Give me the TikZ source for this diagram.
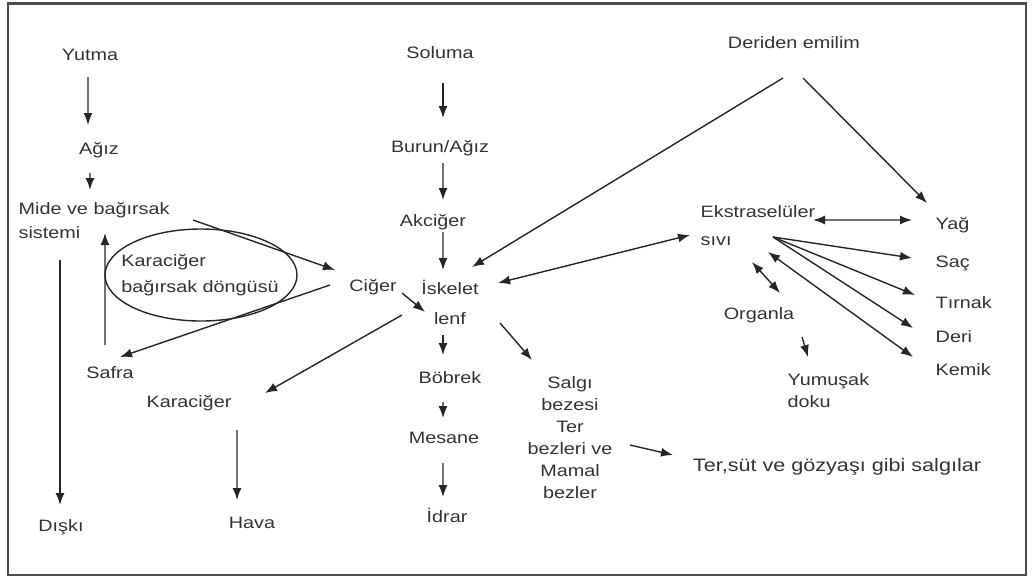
\documentclass[tikz,border=0pt]{standalone}
\usepackage{fontspec}
\setmainfont{Liberation Sans}[FakeStretch=1.2]
\usetikzlibrary{arrows.meta}

\begin{document}
\begin{tikzpicture}[x=10pt,y=-10pt,color=black!85,line width=1.4pt,
    >={Latex[length=12pt,width=9pt]},
    every node/.style={inner sep=2pt,text=black!80,font=\fontsize{16.5}{22}\selectfont}]
    \useasboundingbox (0,0) rectangle (103.2,57.9);
    \draw[line width=2.2pt,black!70] (0.8,0.35) rectangle (102.6,57.5);

    \node (yutma) at (9,5.5) {Yutma};
    \node (agiz) at (9.9,15) {Ağız};
    \node[anchor=west,align=left] (mide) at (1.6,22) {Mide ve bağırsak\\[2pt]sistemi};
    \node[align=left] (dongu) at (20,27.5) {Karaciğer\\[4pt]bağırsak döngüsü};
    \node (safra) at (11,37.3) {Safra};
    \node (karaciger) at (18.9,40.3) {Karaciğer};
    \node (diski) at (6.1,52.7) {Dışkı};
    \node (hava) at (25.2,52.3) {Hava};

    \node (soluma) at (44,5.3) {Soluma};
    \node (burun) at (44,14.8) {Burun/Ağız};
    \node (akciger) at (43.3,22.2) {Akciğer};
    \node (ciger) at (37.3,28.7) {Ciğer};
    \node[align=center] (iskelet) at (45,30.2) {İskelet\\[8pt]lenf};
    \node (bobrek) at (45,37.8) {Böbrek};
    \node (mesane) at (44.4,43.8) {Mesane};
    \node (idrar) at (44.7,51.5) {İdrar};
    \node[align=center] (salgi) at (57,43.8) {Salgı\\bezesi\\Ter\\bezleri ve\\Mamal\\bezler};
    \node[font=\fontsize{18}{22}\selectfont] (tersut) at (83.7,46.7) {Ter,süt ve gözyaşı gibi salgılar};

    \node (deriden) at (79.4,4.3) {Deriden emilim};
    \node[anchor=west,align=left] (ekstra) at (69.8,22.6) {Ekstraselüler\\[6pt]sıvı};
    \node[anchor=west] (yag) at (93.3,22.5) {Yağ};
    \node[anchor=west] (sac) at (93.3,26.3) {Saç};
    \node[anchor=west] (tirnak) at (93.3,30.3) {Tırnak};
    \node[anchor=west] (deri) at (93.3,33.7) {Deri};
    \node[anchor=west] (kemik) at (93.3,37) {Kemik};
    \node (organla) at (75.9,31.5) {Organla};
    \node[anchor=west,align=left] (yumusak) at (78.5,39.1) {Yumuşak\\doku};

    \draw[line width=1.4pt] ([xshift=1pt]dongu.center) ellipse [x radius=96pt, y radius=46pt];

    \path [->] ([shift={(-2pt,-22pt)}]yutma.center) edge ([shift={(-11pt,25pt)}]agiz.center);
    \path [->] ([shift={(-9pt,-23pt)}]agiz.center) edge ([shift={(74pt,30pt)}]mide.west);
    \path [->] ([shift={(44pt,-40pt)}]mide.west) edge ([shift={(-1pt,22pt)}]diski.center);
    \path [->] ([shift={(-5pt,28pt)}]safra.center) edge ([shift={(89pt,-13pt)}]mide.west);
    \path [->] ([shift={(177pt,0pt)}]mide.west) edge ([shift={(-38pt,17pt)}]ciger.center);
    \path [->] ([shift={(-43pt,2pt)}]ciger.center) edge ([shift={(10pt,16pt)}]safra.center);
    \path [->] ([shift={(-48pt,-13pt)}]iskelet.center) edge ([shift={(76pt,10pt)}]karaciger.center);
    \path [->] ([shift={(48pt,-27pt)}]karaciger.center) edge ([shift={(-15pt,23pt)}]hava.center);

    \path [->] ([shift={(3pt,-30pt)}]soluma.center) edge ([shift={(3pt,30pt)}]burun.center);
    \path [->] ([shift={(3pt,-15pt)}]burun.center) edge ([shift={(10pt,22pt)}]akciger.center);
    \path [->] ([shift={(10pt,-10pt)}]akciger.center) edge ([shift={(-7pt,32pt)}]iskelet.center);
    \path [->] ([shift={(29pt,-6pt)}]ciger.center) edge ([shift={(-25pt,-10pt)}]iskelet.center);
    \path [->] ([shift={(-7pt,-33pt)}]iskelet.center) edge ([shift={(-7pt,23pt)}]bobrek.center);
    \path [->] ([shift={(-7pt,-24pt)}]bobrek.center) edge ([shift={(-1pt,20pt)}]mesane.center);
    \path [->] ([shift={(-1pt,-25pt)}]mesane.center) edge ([shift={(-4pt,18pt)}]idrar.center);
    \path [->] ([shift={(50pt,-21pt)}]iskelet.center) edge ([shift={(-38pt,78pt)}]salgi.center);
    \path [->] ([shift={(60pt,-7pt)}]salgi.center) edge ([shift={(-164pt,12pt)}]tersut.center);

    \path [->] ([shift={(-11pt,-35pt)}]deriden.center) edge ([shift={(22pt,35pt)}]iskelet.center);
    \path [->] ([shift={(9pt,-35pt)}]deriden.center) edge ([shift={(-6pt,22pt)}]yag.west);
    \path [<->] ([shift={(48pt,19pt)}]iskelet.center) edge ([shift={(-8pt,-9pt)}]ekstra.west);
    \path [<->] ([shift={(115pt,6pt)}]ekstra.west) edge ([shift={(-21pt,5pt)}]yag.west);
    \path [->] ([shift={(75pt,-11pt)}]ekstra.west) edge ([shift={(-21pt,5pt)}]sac.west);
    \path [->] ([shift={(75pt,-11pt)}]ekstra.west) edge ([shift={(-18pt,8pt)}]tirnak.west);
    \path [->] ([shift={(75pt,-11pt)}]ekstra.west) edge ([shift={(-20pt,9pt)}]deri.west);
    \path [<->] ([shift={(70pt,-26pt)}]ekstra.west) edge ([shift={(-20pt,13pt)}]kemik.west);
    \path [<->] ([shift={(54pt,-36pt)}]ekstra.west) edge ([shift={(21pt,22pt)}]organla.center);
    \path [->] ([shift={(43pt,-22pt)}]organla.center) edge ([shift={(23pt,34pt)}]yumusak.west);
\end{tikzpicture}
\end{document}
